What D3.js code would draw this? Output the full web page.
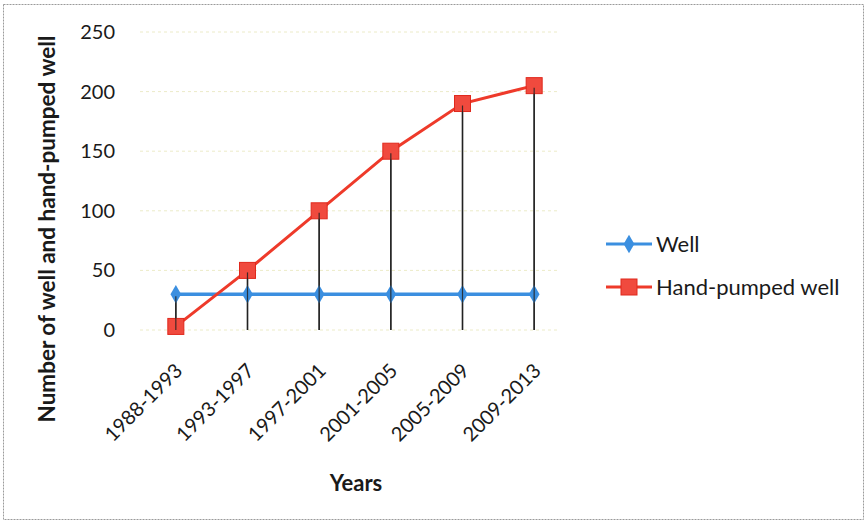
<!DOCTYPE html>
<html>
<head>
<meta charset="utf-8">
<script src="https://cdn.jsdelivr.net/npm/d3@7"></script>
<style>
  html, body { margin: 0; padding: 0; background: #fff; }
  svg { display: block; }
  text { font-family: Lato, "Open Sans", sans-serif; fill: #1a1a1a; }
</style>
</head>
<body>
<svg id="chart" width="867" height="523"></svg>
<script>
// Periods on the x axis
const periods = ["1988-1993", "1993-1997", "1997-2001", "2001-2005", "2005-2009", "2009-2013"];
// Number of wells per period
const wellValues = [30, 30, 30, 30, 30, 30];
// Number of hand-pumped wells per period
const handPumpedValues = [3, 50, 100, 150, 190, 205];
// Y axis ticks
const yTicks = [0, 50, 100, 150, 200, 250];
const seriesNames = ["Well", "Hand-pumped well"];

const svg = d3.select("#chart");
const W = 867, H = 523;

// Outer frame
svg.append("rect")
  .attr("x", 3.5).attr("y", 4.5).attr("width", W - 7).attr("height", H - 8)
  .attr("fill", "#fff").attr("stroke", "#9a9a9a").attr("stroke-width", 1)
  .attr("stroke-dasharray", "2,1");

const plot = { left: 140, right: 570, top: 32, bottom: 330 };

const x = d3.scaleBand().domain(periods).range([plot.left, plot.right]);
const y = d3.scaleLinear().domain([0, 250]).range([plot.bottom, plot.top]);
const cx = d => x(d) + x.bandwidth() / 2;

// Horizontal gridlines
svg.append("g")
  .selectAll("line").data(yTicks).join("line")
  .attr("x1", plot.left).attr("x2", plot.right - 10)
  .attr("y1", d => y(d)).attr("y2", d => y(d))
  .attr("stroke", "#ecebc8").attr("stroke-width", 1)
  .attr("stroke-dasharray", "3,3");

// Y axis labels
const yAxis = d3.axisLeft(y).tickValues(yTicks).tickSize(0).tickPadding(0);
const gy = svg.append("g").attr("transform", `translate(${plot.left - 25},0)`).call(yAxis);
gy.select(".domain").remove();
gy.selectAll("text").attr("font-size", 20).attr("font-family", "Lato, sans-serif").attr("fill", "#1a1a1a");

// Drop lines from highest point to category axis
const maxVals = periods.map((p, i) => Math.max(wellValues[i], handPumpedValues[i]));
svg.append("g")
  .selectAll("line").data(periods).join("line")
  .attr("x1", d => cx(d)).attr("x2", d => cx(d))
  .attr("y1", (d, i) => y(maxVals[i])).attr("y2", y(0))
  .attr("stroke", "#222").attr("stroke-width", 1.5);

// X axis labels, rotated
const xAxis = d3.axisBottom(x).tickSize(0).tickPadding(0);
const gx = svg.append("g").attr("transform", `translate(0,${plot.bottom + 37})`).call(xAxis);
gx.select(".domain").remove();
gx.selectAll("text")
  .attr("font-size", 20).attr("font-family", "Lato, sans-serif").attr("fill", "#1a1a1a")
  .attr("text-anchor", "end").attr("dy", "0.35em").attr("y", 0)
  .attr("transform", "translate(3,0) rotate(-45)");

const line = d3.line().x((d, i) => cx(periods[i])).y(d => y(d));

const wellColor = "#3b8fe0";
const handColor = "#ee3a2a";

// Well series
svg.append("path").datum(wellValues)
  .attr("d", line).attr("fill", "none")
  .attr("stroke", wellColor).attr("stroke-width", 3.5);
svg.append("g").selectAll("path").data(wellValues).join("path")
  .attr("d", d3.symbol(d3.symbolDiamond, 100))
  .attr("transform", (d, i) => `translate(${cx(periods[i])},${y(d)})`)
  .attr("fill", wellColor);

// Hand-pumped well series
svg.append("path").datum(handPumpedValues)
  .attr("d", line).attr("fill", "none")
  .attr("stroke", handColor).attr("stroke-width", 3);
svg.append("g").selectAll("rect").data(handPumpedValues).join("rect")
  .attr("x", (d, i) => cx(periods[i]) - 8).attr("y", d => y(d) - 8)
  .attr("width", 16).attr("height", 16)
  .attr("fill", "#f04a3e").attr("stroke", "#e0281c").attr("stroke-width", 1);

// Drop line passes over the markers
svg.append("g")
  .selectAll("line").data(periods).join("line")
  .attr("x1", d => cx(d)).attr("x2", d => cx(d))
  .attr("y1", (d, i) => y(maxVals[i]) + 2).attr("y2", y(0))
  .attr("stroke", "#222").attr("stroke-width", 1.2).attr("opacity", 0.85);

// Axis titles
svg.append("text")
  .attr("transform", `translate(55,229) rotate(-90)`)
  .attr("text-anchor", "middle").attr("font-size", 22.5).attr("font-weight", "bold")
  .text("Number of well and hand-pumped well");
svg.append("text")
  .attr("x", 356).attr("y", 491).attr("text-anchor", "middle")
  .attr("font-size", 22).attr("font-weight", "bold").text("Years");

// Legend
const legend = svg.append("g");
const legendRows = [
  { name: seriesNames[0], color: wellColor, y: 244, marker: "diamond" },
  { name: seriesNames[1], color: handColor, y: 287, marker: "square" }
];
legendRows.forEach(r => {
  legend.append("line").attr("x1", 606).attr("x2", 652).attr("y1", r.y).attr("y2", r.y)
    .attr("stroke", r.color).attr("stroke-width", 3);
  if (r.marker === "diamond") {
    legend.append("path").attr("d", d3.symbol(d3.symbolDiamond, 100))
      .attr("transform", `translate(629,${r.y})`).attr("fill", r.color);
  } else {
    legend.append("rect").attr("x", 621).attr("y", r.y - 8).attr("width", 16).attr("height", 16)
      .attr("fill", "#f04a3e").attr("stroke", "#e0281c");
  }
  legend.append("text").attr("x", 656).attr("y", r.y).attr("dy", "0.35em")
    .attr("font-size", 22).text(r.name);
});
</script>
</body>
</html>
